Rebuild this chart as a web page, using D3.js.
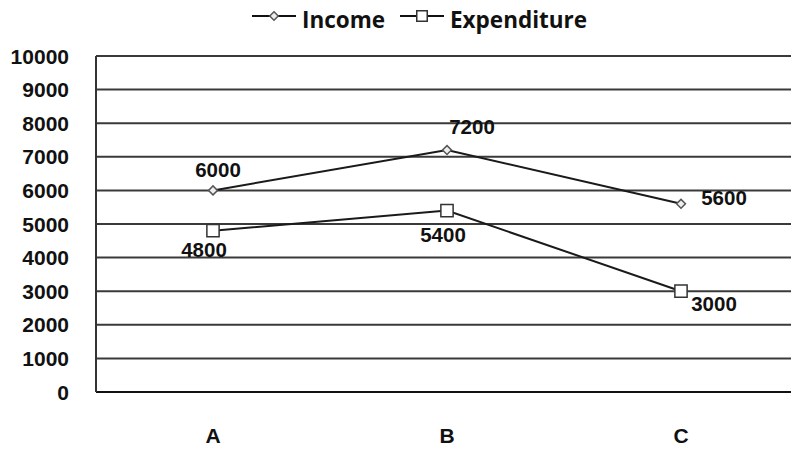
<!DOCTYPE html>
<html>
<head>
<meta charset="utf-8">
<script src="https://cdn.jsdelivr.net/npm/d3@7"></script>
<style>
  body { margin: 0; background: #fff; }
  text { font-family: "Liberation Sans", Arial, sans-serif; font-weight: bold; fill: #111; }
  .legend text { font-family: "Open Sans", sans-serif; }
</style>
</head>
<body>
<svg id="chart" width="791" height="450"></svg>
<script>
// chart data
const categories = ['A', 'B', 'C'];
const income = [6000, 7200, 5600];
const expenditure = [4800, 5400, 3000];
const yTicks = [0, 1000, 2000, 3000, 4000, 5000, 6000, 7000, 8000, 9000, 10000];

// label offsets from each point (dx, dy of text centre)
const incomeLabelOff = [[5, -21], [25, -23], [43, -6]];
const expLabelOff = [[-9, 19], [-4, 24], [33, 12]];

const svg = d3.select('#chart');
const margin = { top: 56, left: 96, bottom: 58 };
const height = +svg.attr('height');

const x = d3.scaleBand()
  .domain(categories)
  .range([margin.left, margin.left + 702]);

const y = d3.scaleLinear()
  .domain([0, 10000])
  .range([height - margin.bottom, margin.top]);

const cx = d => x(d) + x.bandwidth() / 2;

// gridlines
svg.append('g').selectAll('line').data(yTicks)
  .enter().append('line')
    .attr('x1', margin.left)
    .attr('x2', 791)
    .attr('y1', d => y(d))
    .attr('y2', d => y(d))
    .attr('stroke', d => d === 0 ? '#111' : '#3a3a3a')
    .attr('stroke-width', 2);

// left axis line
svg.append('line')
  .attr('x1', margin.left).attr('x2', margin.left)
  .attr('y1', y(10000)).attr('y2', y(0))
  .attr('stroke', '#333').attr('stroke-width', 2);

// y tick labels
svg.append('g').selectAll('text').data(yTicks)
  .enter().append('text')
    .attr('x', 69)
    .attr('y', d => y(d))
    .attr('dy', '0.36em')
    .attr('text-anchor', 'end')
    .style('font-size', '21px')
    .text(d => d);

// x category labels
svg.append('g').selectAll('text').data(categories)
  .enter().append('text')
    .attr('x', cx)
    .attr('y', 435)
    .attr('dy', '0.36em')
    .attr('text-anchor', 'middle')
    .style('font-size', '21px')
    .text(d => d);

const line = d3.line().x(d => cx(d.c)).y(d => y(d.v));
const incPts = categories.map((c, i) => ({ c, v: income[i] }));
const expPts = categories.map((c, i) => ({ c, v: expenditure[i] }));

svg.append('path').datum(incPts)
  .attr('d', line).attr('fill', 'none')
  .attr('stroke', '#1a1a1a').attr('stroke-width', 2);
svg.append('path').datum(expPts)
  .attr('d', line).attr('fill', 'none')
  .attr('stroke', '#1a1a1a').attr('stroke-width', 2);

// diamond = square turned 45deg
const diamond = d3.symbol().type(d3.symbolSquare).size(40);
const square = d3.symbol().type(d3.symbolSquare).size(150);

svg.append('g').selectAll('path').data(incPts)
  .enter().append('path')
    .attr('d', diamond)
    .attr('transform', d => `translate(${cx(d.c)},${y(d.v)}) rotate(45)`)
    .attr('fill', '#eee').attr('stroke', '#555').attr('stroke-width', 1.5);

svg.append('g').selectAll('path').data(expPts)
  .enter().append('path')
    .attr('d', square)
    .attr('transform', d => `translate(${cx(d.c)},${y(d.v)})`)
    .attr('fill', '#fff').attr('stroke', '#333').attr('stroke-width', 1.5);

// value labels
svg.append('g').selectAll('text').data(incPts)
  .enter().append('text')
    .attr('x', (d, i) => cx(d.c) + incomeLabelOff[i][0])
    .attr('y', (d, i) => y(d.v) + incomeLabelOff[i][1])
    .attr('dy', '0.36em')
    .attr('text-anchor', 'middle')
    .style('font-size', '20.5px')
    .text(d => d.v);

svg.append('g').selectAll('text').data(expPts)
  .enter().append('text')
    .attr('x', (d, i) => cx(d.c) + expLabelOff[i][0])
    .attr('y', (d, i) => y(d.v) + expLabelOff[i][1])
    .attr('dy', '0.36em')
    .attr('text-anchor', 'middle')
    .style('font-size', '20.5px')
    .text(d => d.v);

// legend
const legend = svg.append('g').attr('class', 'legend');
const legendItems = [
  { name: 'Income', x: 252, size: 36, rot: 45, fill: '#eee', stroke: '#555' },
  { name: 'Expenditure', x: 400, size: 110, rot: 0, fill: '#fff', stroke: '#333' }
];
legendItems.forEach(it => {
  legend.append('line')
    .attr('x1', it.x).attr('x2', it.x + 44)
    .attr('y1', 16).attr('y2', 16)
    .attr('stroke', '#111').attr('stroke-width', 2);
  legend.append('path')
    .attr('d', d3.symbol().type(d3.symbolSquare).size(it.size)())
    .attr('transform', `translate(${it.x + 22},16) rotate(${it.rot})`)
    .attr('fill', it.fill).attr('stroke', it.stroke).attr('stroke-width', 1.5);
  legend.append('text')
    .attr('x', it.x + 50)
    .attr('y', 20)
    .attr('dy', '0.36em')
    .style('font-size', '22.5px')
    .text(it.name);
});
</script>
</body>
</html>
